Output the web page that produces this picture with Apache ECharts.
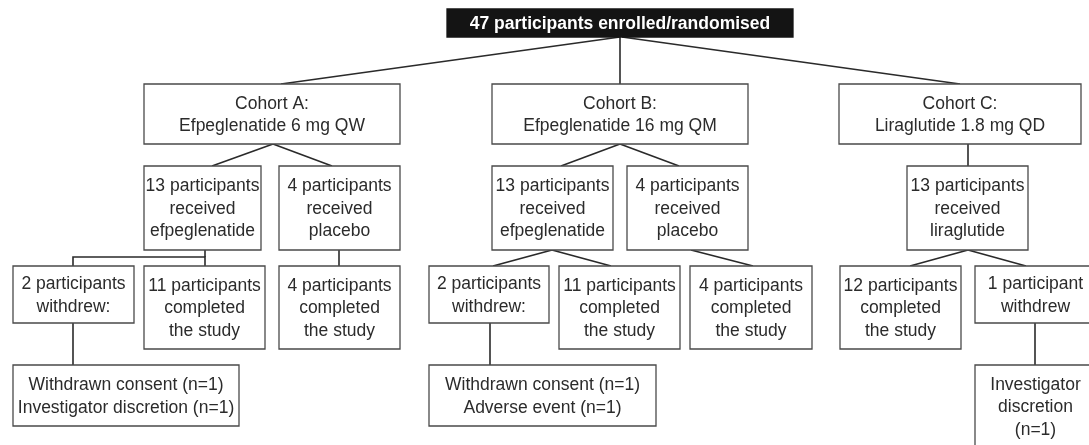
<!DOCTYPE html>
<html>
<head>
<meta charset="utf-8">
<script src="https://cdn.jsdelivr.net/npm/echarts@6/dist/echarts.min.js"></script>
<style>
html,body{margin:0;padding:0;background:#ffffff;}
#chart{width:1089px;height:445px;}
</style>
</head>
<body>
<div id="chart"></div>
<script>
// ---- Text content (data) ----
const enrolledLabel = '47 participants enrolled/randomised';
const cohortLabels = [
  'Cohort A:\nEfpeglenatide 6 mg QW',
  'Cohort B:\nEfpeglenatide 16 mg QM',
  'Cohort C:\nLiraglutide 1.8 mg QD'
];
const receivedLabels = [
  '13 participants\nreceived\nefpeglenatide',
  '4 participants\nreceived\nplacebo',
  '13 participants\nreceived\nefpeglenatide',
  '4 participants\nreceived\nplacebo',
  '13 participants\nreceived\nliraglutide'
];
const outcomeLabels = [
  '2 participants\nwithdrew:',
  '11 participants\ncompleted\nthe study',
  '4 participants\ncompleted\nthe study',
  '2 participants\nwithdrew:',
  '11 participants\ncompleted\nthe study',
  '4 participants\ncompleted\nthe study',
  '12 participants\ncompleted\nthe study',
  '1 participant\nwithdrew'
];
const reasonLabels = [
  'Withdrawn consent (n=1)\nInvestigator discretion (n=1)',
  'Withdrawn consent (n=1)\nAdverse event (n=1)',
  'Investigator\ndiscretion\n(n=1)'
];

// ---- Layout (diagram units, x0,y0,x1,y1) ----
const enrolledBox = [447, 9, 793, 37];
const cohortBoxes = [[144,84,400,144],[492,84,748,144],[839,84,1081,144]];
const receivedBoxes = [[144,166,261,250],[279,166,400,250],[492,166,613,250],[627,166,748,250],[907,166,1028,250]];
const outcomeBoxes = [[13,266,134,323],[144,266,265,349],[279,266,400,349],[429,266,549,323],[559,266,680,349],[690,266,812,349],[840,266,961,349],[975,266,1096,323]];
const reasonBoxes = [[13,365,239,426],[429,365,656,426],[975,365,1096,448]];
const connectors = [
  [[620,37],[281,84]], [[620,37],[620,84]], [[622,37],[960,84]],
  [[273,144],[212,166]], [[273,144],[332,166]],
  [[620,144],[561,166]], [[620,144],[679,166]],
  [[968,144],[968,166]],
  [[73,266],[73,257],[205,257],[205,266]], [[205,250],[205,257]],
  [[339,250],[339,266]],
  [[552,250],[493,266]], [[552,250],[611,266]],
  [[691,250],[753,266]],
  [[968,250],[910,266]], [[968,250],[1026,266]],
  [[73,323],[73,365]], [[490,323],[490,365]], [[1035,323],[1035,365]]
];

// ---- Build box data ----
const boxData = [];
boxData.push({value: enrolledBox, label: enrolledLabel, dark: true});
[[cohortLabels, cohortBoxes],[receivedLabels, receivedBoxes],[outcomeLabels, outcomeBoxes],[reasonLabels, reasonBoxes]]
  .forEach(([labels, boxes]) => labels.forEach((t, i) => boxData.push({value: boxes[i], label: t, dark: false})));

const FONT = '"Liberation Sans", Arial, sans-serif';

const chart = echarts.init(document.getElementById('chart'), null, {renderer: 'canvas'});
chart.setOption({
  backgroundColor: '#ffffff',
  animation: false,
  grid: {left: 0, right: 0, top: 0, bottom: 0},
  xAxis: {type: 'value', min: 0, max: 1089, show: false},
  yAxis: {type: 'value', min: 0, max: 445, inverse: true, show: false},
  series: [
    {
      type: 'lines',
      coordinateSystem: 'cartesian2d',
      polyline: true,
      silent: true,
      lineStyle: {color: '#2a2a2a', width: 1.6, opacity: 1},
      data: connectors.map(c => ({coords: c})),
      z: 1
    },
    {
      type: 'custom',
      coordinateSystem: 'cartesian2d',
      silent: true,
      clip: false,
      z: 2,
      data: boxData.map(d => d.value),
      renderItem: function (params, api) {
        const d = boxData[params.dataIndex];
        const p0 = api.coord([api.value(0), api.value(1)]);
        const p1 = api.coord([api.value(2), api.value(3)]);
        return {
          type: 'group',
          children: [
            {
              type: 'rect',
              shape: {x: p0[0], y: p0[1], width: p1[0] - p0[0], height: p1[1] - p0[1]},
              style: {fill: d.dark ? '#141414' : '#ffffff', stroke: d.dark ? '#141414' : '#4a4a4a', lineWidth: 1.3}
            },
            {
              type: 'text',
              style: {
                x: (p0[0] + p1[0]) / 2,
                y: (p0[1] + p1[1]) / 2 + 1,
                text: d.label,
                align: 'center',
                verticalAlign: 'middle',
                fill: d.dark ? '#ffffff' : '#2b2b2b',
                fontFamily: FONT,
                fontSize: 17.5,
                fontWeight: d.dark ? 'bold' : 'normal',
                lineHeight: 22.5
              }
            }
          ]
        };
      }
    }
  ]
});
</script>
</body>
</html>
